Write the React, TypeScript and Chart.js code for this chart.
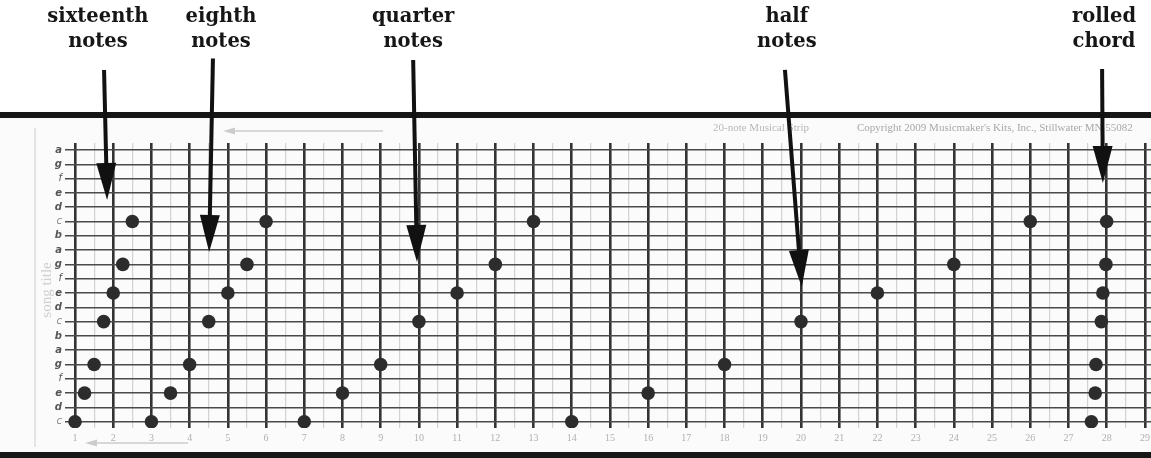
import React, { useEffect, useRef } from 'react';
import { Chart, registerables } from 'chart.js';

Chart.register(...registerables);

// ---- data ----
const pitchLabels = ['c', 'd', 'e', 'f', 'g', 'a', 'b', 'c', 'd', 'e', 'f', 'g', 'a', 'b', 'c', 'd', 'e', 'f', 'g', 'a'];
const beatLabels = ['1', '2', '3', '4', '5', '6', '7', '8', '9', '10', '11', '12', '13', '14', '15', '16', '17', '18', '19', '20', '21', '22', '23', '24', '25', '26', '27', '28', '29'];

const sixteenthBeats = [1, 1.25, 1.5, 1.75, 2, 2.25, 2.5];
const eighthBeats = [3, 3.5, 4, 4.5, 5, 5.5, 6];
const quarterBeats = [7, 8, 9, 10, 11, 12, 13];
const halfBeats = [14, 16, 18, 20, 22, 24, 26];
const rolledBeats = [27.6, 27.7, 27.72, 27.86, 27.9, 27.98, 28];
// pitch index (0 = low c ... 19 = high a)
const arpeggioPitches = [0, 2, 4, 7, 9, 11, 14];

const noteGroupNames = [
  ['sixteenth', 'notes'],
  ['eighth', 'notes'],
  ['quarter', 'notes'],
  ['half', 'notes'],
  ['rolled', 'chord'],
];

// ---- layout (decoration, not data) ----
const X_MIN = 0.738;
const X_MAX = 29.16;
const Y_MIN = -0.44;
const Y_MAX = 19.49;

const ARROWS = [
  { textX: 1.6, tail: [1.76, 24.6], tip: [1.84, 15.5] },
  { textX: 4.82, tail: [4.61, 25.4], tip: [4.51, 11.87] },
  { textX: 9.85, tail: [9.85, 25.3], tip: [9.95, 11.17] },
  { textX: 19.63, tail: [19.58, 24.6], tip: [20.02, 9.42] },
  { textX: 27.93, tail: [27.88, 24.66], tip: [27.9, 16.69] },
];

function makePoints(xs: number[], ys: number[]) {
  return xs.map((x, i) => ({ x, y: ys[i] }));
}

const gridX: number[] = [];
for (let i = 0; i < beatLabels.length; i++) {
  gridX.push(i + 1);
  if (i < beatLabels.length - 1) gridX.push(i + 1.5);
}

function tickVal(c: any): number | undefined {
  if (c && c.tick && typeof c.tick.value === 'number') return c.tick.value;
  if (c && typeof c.index === 'number') return c.index;
  return undefined;
}

function drawArrow(ctx: CanvasRenderingContext2D, x1: number, y1: number, x2: number, y2: number, headLen: number, headHalf: number, color: string, width: number) {
  const dx = x2 - x1;
  const dy = y2 - y1;
  const len = Math.sqrt(dx * dx + dy * dy);
  const ux = dx / len;
  const uy = dy / len;
  const bx = x2 - ux * headLen;
  const by = y2 - uy * headLen;
  ctx.save();
  ctx.strokeStyle = color;
  ctx.fillStyle = color;
  ctx.lineWidth = width;
  ctx.beginPath();
  ctx.moveTo(x1, y1);
  ctx.lineTo(bx + ux * 2, by + uy * 2);
  ctx.stroke();
  ctx.beginPath();
  ctx.moveTo(x2, y2);
  ctx.lineTo(bx - uy * headHalf, by + ux * headHalf);
  ctx.lineTo(bx + uy * headHalf, by - ux * headHalf);
  ctx.closePath();
  ctx.fill();
  ctx.restore();
}

const decorPlugin = {
  id: 'decor',
  beforeDraw(chart: any) {
    const ctx = chart.ctx as CanvasRenderingContext2D;
    const w = chart.width;
    ctx.save();
    ctx.fillStyle = '#ffffff';
    ctx.fillRect(0, 0, w, chart.height);
    ctx.fillStyle = '#fbfbfb';
    ctx.fillRect(0, 118, w, 334);
    ctx.fillStyle = '#161616';
    ctx.fillRect(0, 112, w, 6);
    ctx.fillRect(0, 452, w, 6);
    ctx.strokeStyle = '#d6d6d6';
    ctx.lineWidth = 1.2;
    ctx.beginPath();
    ctx.moveTo(35, 128);
    ctx.lineTo(35, 447);
    ctx.stroke();
    ctx.save();
    ctx.translate(47, 290);
    ctx.rotate(-Math.PI / 2);
    ctx.fillStyle = '#cfcfcf';
    ctx.font = '15px "Liberation Serif"';
    ctx.textAlign = 'center';
    ctx.textBaseline = 'middle';
    ctx.fillText('song title', 0, 0);
    ctx.restore();
    ctx.fillStyle = '#b8b8b8';
    ctx.font = '11px "Liberation Serif"';
    ctx.textAlign = 'left';
    ctx.textBaseline = 'middle';
    ctx.fillText('20-note Musical Strip', 713, 128);
    ctx.fillStyle = '#a8a8a8';
    ctx.fillText("Copyright 2009 Musicmaker's Kits, Inc., Stillwater MN 55082", 857, 128);
    drawArrow(ctx, 383, 131, 223, 131, 12, 3.5, '#cccccc', 1.4);
    drawArrow(ctx, 188, 443, 85, 443, 12, 3.5, '#cccccc', 1.4);
    ctx.restore();
  },
  afterDraw(chart: any) {
    const ctx = chart.ctx as CanvasRenderingContext2D;
    const xs = chart.scales.x;
    const ys = chart.scales.y;
    ctx.save();
    ctx.fillStyle = '#161616';
    ctx.font = 'bold 19.5px "DejaVu Serif"';
    ctx.textAlign = 'center';
    ctx.textBaseline = 'middle';
    ARROWS.forEach((a, i) => {
      const tx = xs.getPixelForValue(a.textX);
      const lines = noteGroupNames[i];
      ctx.fillText(lines[0], tx, 17);
      ctx.fillText(lines[1], tx, 42);
      drawArrow(
        ctx,
        xs.getPixelForValue(a.tail[0]), ys.getPixelForValue(a.tail[1]),
        xs.getPixelForValue(a.tip[0]), ys.getPixelForValue(a.tip[1]),
        37, 10, '#111111', 4
      );
    });
    ctx.restore();
  },
};

export default function App() {
  const canvasRef = useRef<HTMLCanvasElement | null>(null);

  useEffect(() => {
    const canvas = canvasRef.current;
    if (!canvas) return;
    const dotStyle = { pointRadius: 6.8, pointBackgroundColor: '#2c2c2c', pointBorderWidth: 0, showLine: false };
    const chart = new Chart(canvas, {
      type: 'scatter',
      data: {
        datasets: [
          { label: 'sixteenth notes', data: makePoints(sixteenthBeats, arpeggioPitches), ...dotStyle },
          { label: 'eighth notes', data: makePoints(eighthBeats, arpeggioPitches), ...dotStyle },
          { label: 'quarter notes', data: makePoints(quarterBeats, arpeggioPitches), ...dotStyle },
          { label: 'half notes', data: makePoints(halfBeats, arpeggioPitches), ...dotStyle },
          { label: 'rolled chord', data: makePoints(rolledBeats, arpeggioPitches), ...dotStyle },
        ],
      },
      options: {
        responsive: false,
        animation: false,
        devicePixelRatio: 1,
        layout: { autoPadding: false, padding: { top: 143, left: 0, right: 0, bottom: 0 } },
        plugins: { legend: { display: false }, tooltip: { enabled: false } },
        scales: {
          x: {
            type: 'linear',
            min: X_MIN,
            max: X_MAX,
            afterBuildTicks: (s: any) => { s.ticks = gridX.map((v) => ({ value: v })); },
            afterFit: (s: any) => { s.height = 30; s.paddingLeft = 0; s.paddingRight = 0; },
            border: { display: false },
            grid: {
              drawTicks: false,
              color: (c: any) => {
                const v = c && c.tick ? c.tick.value : 1;
                return Number.isInteger(v) ? '#333333' : '#d2d2d2';
              },
              lineWidth: (c: any) => {
                const v = c && c.tick ? c.tick.value : 1;
                return Number.isInteger(v) ? 2.6 : 1.2;
              },
            },
            ticks: {
              autoSkip: false,
              maxRotation: 0,
              padding: 4,
              color: '#b0b0b0',
              font: { family: '"Liberation Serif"', size: 10 },
              callback: (v: any) => (Number.isInteger(v) ? beatLabels[v - 1] : ''),
            },
          },
          y: {
            type: 'linear',
            min: Y_MIN,
            max: Y_MAX,
            afterBuildTicks: (s: any) => { s.ticks = pitchLabels.map((_, i) => ({ value: i })); },
            afterFit: (s: any) => { s.width = 65; s.paddingTop = 0; s.paddingBottom = 0; },
            border: { display: false },
            grid: { drawTicks: false, color: '#4a4a4a', lineWidth: 1.6 },
            ticks: {
              autoSkip: false,
              padding: 3,
              color: (c: any) => {
                const v = tickVal(c);
                return v !== undefined && pitchLabels[v] === 'c' ? '#8a8a8a' : '#555555';
              },
              font: (c: any) => {
                const v = tickVal(c);
                const p = v !== undefined ? pitchLabels[v] : 'a';
                return {
                  family: '"DejaVu Sans"',
                  size: 10,
                  style: 'italic',
                  weight: p === 'c' || p === 'f' ? 'normal' : 'bold',
                };
              },
              callback: (v: any) => pitchLabels[v] ?? '',
            },
          },
        },
      },
      plugins: [decorPlugin],
    } as any);
    return () => chart.destroy();
  }, []);

  return (
    <div style={{ position: 'fixed', left: 0, top: 0, width: 1151, height: 458, background: '#ffffff' }}>
      <canvas ref={canvasRef} width={1151} height={458} style={{ display: 'block' }} />
    </div>
  );
}
